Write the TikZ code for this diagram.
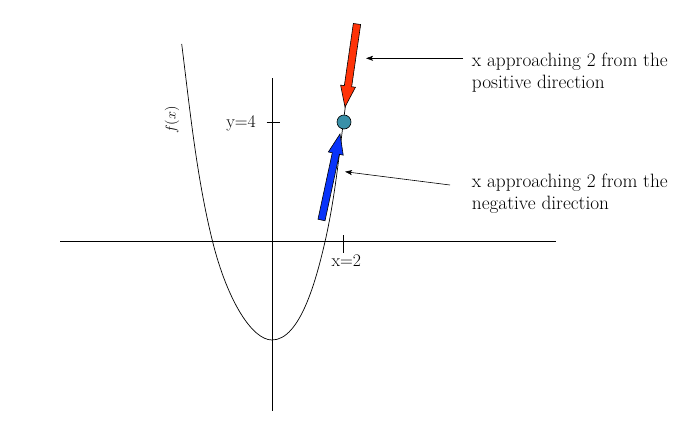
\documentclass[tikz,border=0pt]{standalone}
\usetikzlibrary{arrows.meta}
\definecolor{redarrow}{RGB}{255,51,8}
\definecolor{bluearrow}{RGB}{8,51,250}
\definecolor{dotfill}{RGB}{57,144,168}
\tikzset{
  axisline/.style={line width=0.8pt},
  tickline/.style={line width=0.6pt},
  curveline/.style={line width=0.7pt},
  blockarrow/.style={draw=black, line width=0.6pt, line join=miter},
  callout/.style={line width=0.6pt, -{Stealth[length=7pt,width=5pt,inset=1.5pt]}},
  lbl/.style={inner sep=0pt, font=\fontsize{17.7}{22.6}\selectfont},
  note/.style={inner sep=0pt, align=left, anchor=north west, font=\fontsize{19.3}{22.6}\selectfont}
}
\begin{document}
\begin{tikzpicture}[x=1pt,y=-1pt]
\useasboundingbox (0,0) rectangle (688,447);
% axes
\draw[axisline] (60,241) -- (556,241);
\draw[axisline] (272,78) -- (272,411);
% ticks
\draw[tickline] (266.5,122) -- (280,122);
\draw[tickline] (343.5,235) -- (343.5,253);
% curve
\draw[curveline] (181.7,44) .. controls (189.9,109.5) and (196.7,178) .. (212.7,242)
  .. controls (227.3,300.2) and (252,340) .. (272,340)
  .. controls (300,340) and (316,280.7) .. (325,241.7)
  .. controls (335.5,195.9) and (339.7,148.3) .. (346,101.7);
% labels
\node[lbl, anchor=base east] (ylab) at (256,127) {y=4};
\node[lbl, anchor=base] (xlab) at (346.3,266.7) {x=2};
\node[inner sep=0pt, rotate=90, font=\fontsize{15}{18}\selectfont] (flab) at (172,120) {$f(x)$};
% block arrows
\filldraw[blockarrow, fill=redarrow] (353.34,23.47) -- (360.66,24.53) -- (351.66,86.73)
  -- (355.42,87.27) -- (345,107) -- (340.58,85.13) -- (344.34,85.67) -- cycle;
\filldraw[blockarrow, fill=bluearrow] (325.02,220.76) -- (317.98,219.24) -- (332.27,152.79)
  -- (328.36,151.95) -- (340,134) -- (343.22,155.15) -- (339.31,154.31) -- cycle;
% point
\node[circle, draw=black, line width=0.6pt, fill=dotfill, minimum size=14pt, inner sep=0pt] (pt) at (344,122) {};
% notes
\node[note] (t1) at (471.7,52.3) {x approaching 2 from the\\positive direction};
\node[note] (t2) at (471.7,173.3) {x approaching 2 from the\\negative direction};
\coordinate (e1) at (366,58.3);
\coordinate (e2) at (345,171.7);
\draw[callout] ([xshift=-8.7pt,yshift=-6pt]t1.north west) -- (e1);
\draw[callout] ([xshift=-21.7pt,yshift=-11.7pt]t2.north west) -- (e2);
\end{tikzpicture}
\end{document}
